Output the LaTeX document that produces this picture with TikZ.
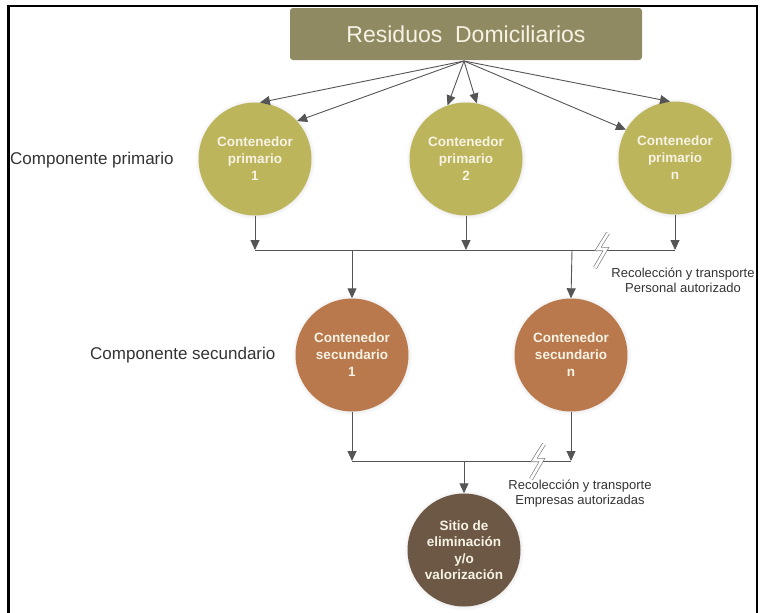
\documentclass[tikz,border=0pt]{standalone}
\usepackage{fontspec}
\setmainfont{Liberation Sans}
\usetikzlibrary{arrows.meta,shadows}
\definecolor{boxc}{HTML}{8F8A62}
\definecolor{primc}{HTML}{BDB55B}
\definecolor{secc}{HTML}{B9794D}
\definecolor{finc}{HTML}{6C5845}
\definecolor{linec}{HTML}{555555}
\definecolor{txtc}{HTML}{F6F3E4}
\tikzset{
  conn/.style={draw=linec, line width=0.9pt},
  arr/.style={conn, -{Triangle[length=10pt,width=9pt]}},
  cont/.style={circle, minimum size=113pt, inner sep=0pt, align=center,
    text=txtc, font=\fontsize{13.5}{17}\selectfont\bfseries,
    circular drop shadow={shadow xshift=0pt, shadow yshift=0pt, shadow scale=1.07, opacity=0.25}},
  prim/.style={cont, fill=primc},
  sec/.style={cont, fill=secc},
  fin/.style={cont, fill=finc, font=\fontsize{13.5}{16.5}\selectfont\bfseries},
  lbl/.style={font=\fontsize{17}{20}\selectfont, text=black!80, inner sep=0pt},
  small/.style={font=\fontsize{13}{15}\selectfont, text=black!80, align=center, inner sep=0pt},
  boltline/.style={draw=gray, line width=0.7pt, double=white, double distance=2.6pt},
  bolt/.pic={\draw[boltline] (7,-17) -- (-3,-1) -- (5,-1) -- (-6,18);}
}
\begin{document}
\begin{tikzpicture}[x=1pt,y=-1pt]
\useasboundingbox (0,0) rectangle (766,613);
% frame
\draw[line width=2.5pt] (8.5,613) -- (8.5,6) -- (757,6) -- (757,613);
% top box
\node[fill=boxc, rounded corners=3pt, minimum width=352pt, minimum height=52pt,
  text=txtc, font=\fontsize{23}{26}\selectfont] (top) at (466,34) {Residuos\ \ Domiciliarios};
% primary
\node[prim] (p1) at (255,159) {Contenedor\\primario\\1};
\node[prim] (p2) at (466,159) {Contenedor\\primario\\2};
\node[prim] (pn) at (675,158) {Contenedor\\primario\\n};
% secondary
\node[sec] (s1) at (352,355) {Contenedor\\secundario\\1};
\node[sec] (sn) at (571,355) {Contenedor\\secundario\\n};
% final
\node[fin] (f) at (464,550) {Sitio de\\eliminación\\y/o\\valorización};
% labels
\node[lbl, anchor=west] (lp) at (10,160) {Componente primario};
\node[lbl, anchor=west] (ls) at (90,355) {Componente secundario};
\node[small] (r1) at (683,280) {Recolección y transporte\\Personal autorizado};
\node[small] (r2) at (580,494) {Recolección y transporte\\Empresas autorizadas};
% junction coordinates
\coordinate (src) at (464,61);
\coordinate (j1) at (255,250);
\coordinate (j2) at (466,250);
\coordinate (jn) at (675,250);
\coordinate (ja) at (352,250);
\coordinate (jb) at (572,250);
\coordinate (k1) at (352,461);
\coordinate (kn) at (571,461);
\coordinate (kc) at (464,461);
% arrows from top
\draw[arr] (src) -- (p1.85);
\draw[arr] (src) -- (p1.42);
\draw[arr] (src) -- (p2.109);
\draw[arr] (src) -- (p2.79);
\draw[arr] (src) -- (pn.150);
\draw[arr] (src) -- (pn.95);
% primary to bus
\draw[arr] (p1.south) -- (j1);
\draw[arr] (p2.south) -- (j2);
\draw[arr] (pn.south) -- (jn);
\draw[conn] (j1) -- (jn);
\draw[arr] (ja) -- (s1.north);
\draw[arr] (jb) -- (sn.north);
% secondary to bus
\draw[arr] (s1.south) -- (k1);
\draw[arr] (sn.south) -- (kn);
\draw[conn] (k1) -- (kn);
\draw[arr] (kc) -- (f.north);
% bolts
\pic at (601,250) {bolt};
\pic at (537,461) {bolt};
\end{tikzpicture}
\end{document}
